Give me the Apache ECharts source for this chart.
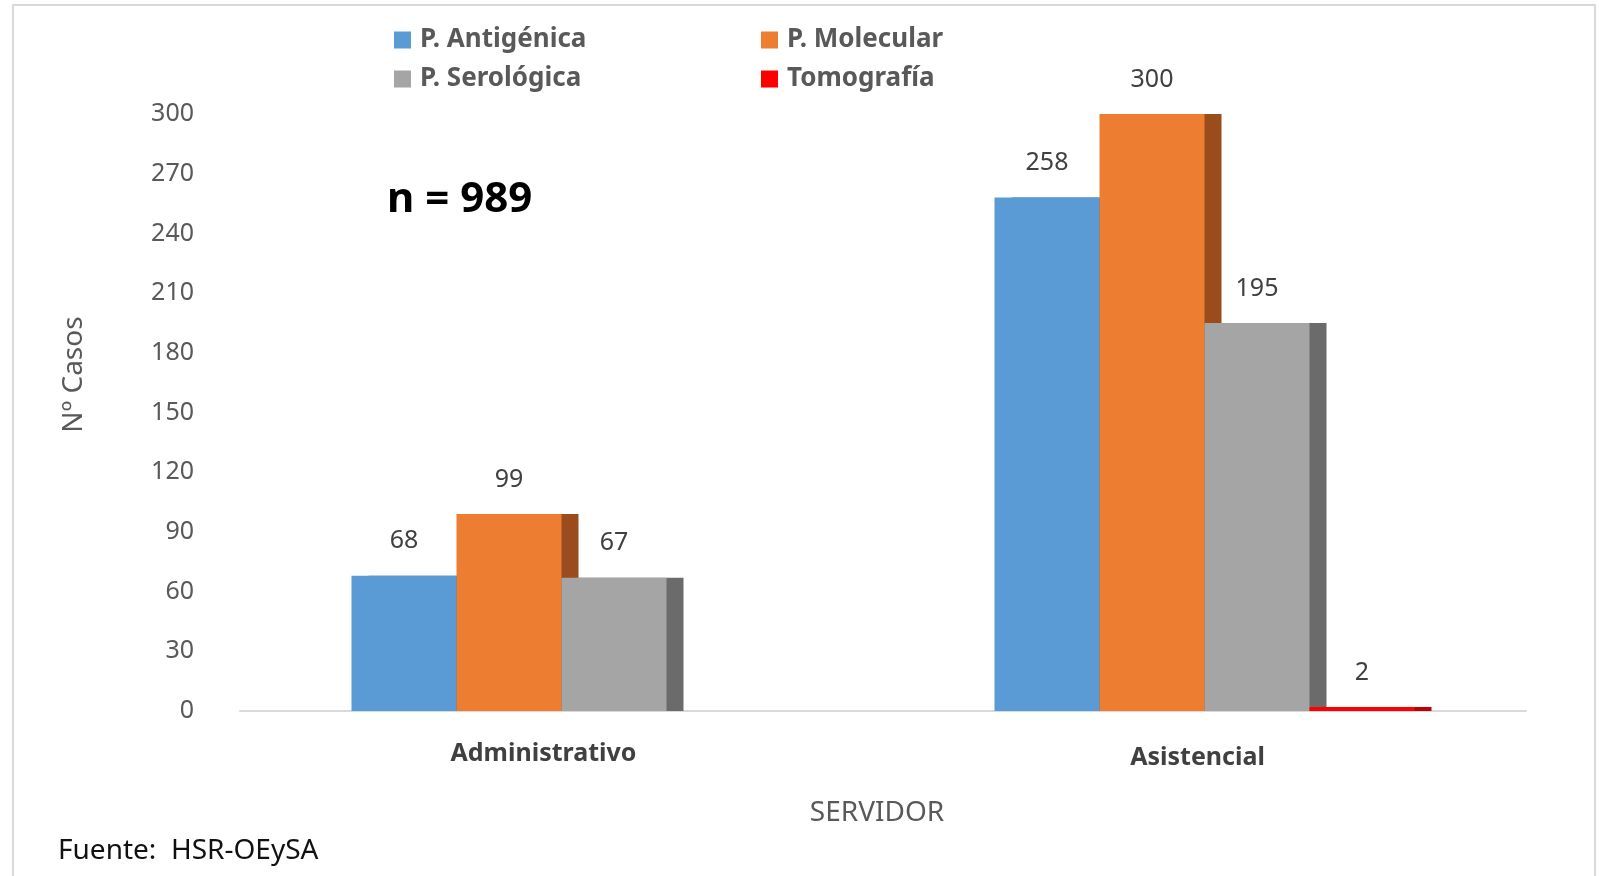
<!DOCTYPE html>
<html>
<head>
<meta charset="utf-8">
<script src="https://cdn.jsdelivr.net/npm/echarts@6/dist/echarts.min.js"></script>
<style>
html,body{margin:0;padding:0;background:#fff;}
#c{width:1599px;height:876px;position:relative;}
#frame{position:absolute;left:12px;top:4px;width:1584px;height:880px;border:2px solid #d9d9d9;box-sizing:border-box;pointer-events:none;}
</style>
</head>
<body>
<div id="c"></div>
<div id="frame"></div>
<script>
const categories = ['Administrativo', 'Asistencial'];
const seriesNames = ['P. Antigénica', 'P. Molecular', 'P. Serológica', 'Tomografía'];
const antigenica = [68, 258];
const molecular = [99, 300];
const serologica = [67, 195];
const tomografia = [0, 2];
const yTicks = [0, 30, 60, 90, 120, 150, 180, 210, 240, 270, 300];

const colors = ['#5b9bd5', '#ed7d31', '#a5a5a5', '#ff0000'];
const sideColors = ['#3d6f9e', '#9a4c1c', '#6b6b6b', '#c00000'];
const values = [antigenica, molecular, serologica, tomografia];

const FONT = '"Noto Sans", "Open Sans", sans-serif';

const chart = echarts.init(document.getElementById('c'));

const series = seriesNames.map((name, i) => ({
  name: name,
  type: 'bar',
  data: values[i],
  barWidth: 105,
  barGap: '0%',
  barCategoryGap: '35%',
  itemStyle: {
    color: colors[i],
    shadowColor: sideColors[i],
    shadowOffsetX: 17,
    shadowOffsetY: 0,
    shadowBlur: 0
  },
  label: {
    show: true,
    position: 'top',
    distance: 22,
    color: '#404040',
    fontFamily: FONT,
    fontSize: 25,
    formatter: p => (p.value === 0 ? '' : String(p.value))
  },
  emphasis: { disabled: true }
}));

const legendPos = [
  { left: 394, top: 27 },
  { left: 761, top: 27 },
  { left: 394, top: 66 },
  { left: 761, top: 66 }
];

const option = {
  backgroundColor: '#ffffff',
  animation: false,
  color: colors,
  title: [
    {
      text: 'n = 989',
      left: 387, top: 179, padding: 0,
      textStyle: { fontFamily: FONT, fontWeight: 'bold', fontSize: 42, color: '#000000' }
    },
    {
      text: 'Fuente:  HSR-OEySA',
      left: 58, top: 837, padding: 0,
      textStyle: { fontFamily: FONT, fontWeight: 'normal', fontSize: 28, color: '#111111' }
    }
  ],
  legend: seriesNames.map((n, i) => ({
    data: [n],
    left: legendPos[i].left,
    top: legendPos[i].top,
    padding: 0,
    icon: 'rect',
    itemWidth: 17,
    itemHeight: 17,
    itemGap: 8,
    selectedMode: false,
    textStyle: { fontFamily: FONT, fontWeight: 'bold', fontSize: 26, color: '#595959', padding: [0, 0, 0, 4] }
  })),
  grid: { left: 240, right: 73, top: 114, bottom: 165, containLabel: false },
  xAxis: {
    type: 'category',
    data: categories,
    name: 'SERVIDOR',
    nameLocation: 'middle',
    nameGap: 88,
    nameTextStyle: { fontFamily: FONT, fontSize: 28, color: '#595959', padding: [0, 12, 0, 0] },
    axisLine: { show: true, lineStyle: { color: '#d9d9d9', width: 2 } },
    axisTick: { show: false },
    axisLabel: {
      margin: 30,
      fontFamily: FONT, fontWeight: 'bold', fontSize: 25, color: '#404040',
      formatter: (v, idx) => '{c' + idx + '|' + v + '}',
      rich: {
        c0: { fontFamily: FONT, fontWeight: 'bold', fontSize: 25, color: '#404040', padding: [0, 36, 0, 0] },
        c1: { fontFamily: FONT, fontWeight: 'bold', fontSize: 25, color: '#404040', padding: [4, 14, 0, 0] }
      }
    }
  },
  yAxis: {
    type: 'value',
    min: yTicks[0],
    max: yTicks[yTicks.length - 1],
    interval: yTicks[1] - yTicks[0],
    name: 'Nº Casos',
    nameLocation: 'middle',
    nameGap: 152,
    nameTextStyle: { fontFamily: '"Liberation Sans Narrow", "Noto Sans", sans-serif', fontSize: 28, color: '#595959', padding: [0, 0, 0, 76] },
    axisLine: { show: false },
    axisTick: { show: false },
    splitLine: { show: false },
    axisLabel: { margin: 46, fontFamily: FONT, fontSize: 25, color: '#595959' }
  },
  series: series
};

chart.setOption(option);
</script>
</body>
</html>
